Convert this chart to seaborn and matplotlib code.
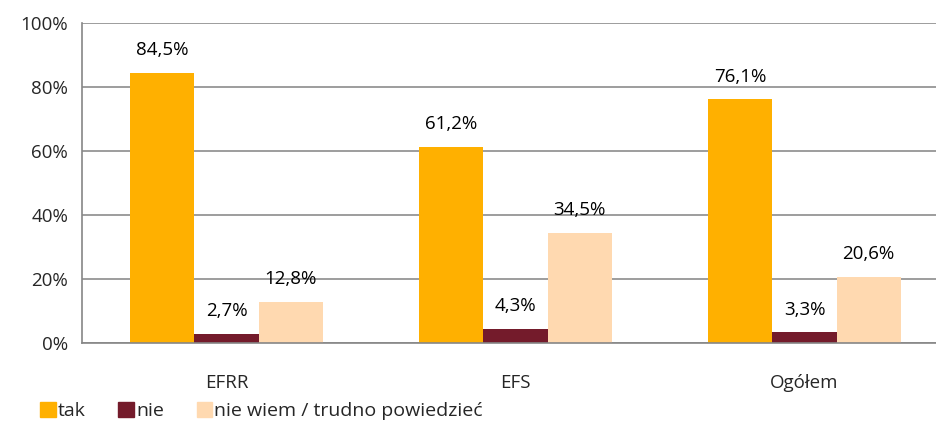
import pandas as pd
import numpy as np
import matplotlib.pyplot as plt
import seaborn as sns

# ── data ──────────────────────────────────────────────────────────────────────
categories = ['EFRR', 'EFS', 'Ogółem']
series = ['tak', 'nie', 'nie wiem / trudno powiedzieć']
tak = [84.5, 61.2, 76.1]
nie = [2.7, 4.3, 3.3]
nie_wiem = [12.8, 34.5, 20.6]
colors = ['#FFB000', '#741B2B', '#FFD9B0']

df = pd.DataFrame({
    'kategoria': categories * 3,
    'seria': [s for s in series for _ in categories],
    'wartosc': tak + nie + nie_wiem,
})

# ── plot ──────────────────────────────────────────────────────────────────────
sns.set_style('white')
plt.rcParams['font.family'] = ['Open Sans', 'DejaVu Sans']
fs = 13.5

fig = plt.figure(figsize=(9.36, 4.25), dpi=100)
ax = fig.add_axes([82 / 936, 1 - 343 / 425, 867 / 936, 320 / 425])

sns.barplot(data=df, x='kategoria', y='wartosc', hue='seria', hue_order=series,
            palette=colors, width=0.665, saturation=1, linewidth=0,
            ax=ax, legend=False)

for cont in ax.containers:
    labels = [f'{b.get_height():.1f}%'.replace('.', ',') for b in cont]
    ax.bar_label(cont, labels=labels, padding=10, fontsize=fs, color='#000000')

ax.set_ylim(0, 100)
ax.set_xlim(-0.5, 2.5)
ax.set_yticks(range(0, 101, 20))
ax.set_yticklabels([f'{v}%' for v in range(0, 101, 20)], fontsize=fs)
ax.set_xticks(range(len(categories)))
ax.set_xticklabels(categories, fontsize=fs)
ax.set_xticks([0.5, 1.5], minor=True)
ax.tick_params(axis='x', which='major', length=0, pad=22)
ax.tick_params(axis='x', which='minor', length=6, color='#868686', width=1.2, direction='out')
ax.tick_params(axis='y', length=6, color='#868686', width=1.2, direction='out', pad=4)
ax.yaxis.grid(True, color='#8c8c8c', linewidth=1.2)
ax.set_axisbelow(True)
ax.set_xlabel('')
ax.set_ylabel('')
for side in ['top', 'right']:
    ax.spines[side].set_visible(False)
for side in ['left', 'bottom']:
    ax.spines[side].set_color('#868686')
    ax.spines[side].set_linewidth(1.2)

handles = [plt.Rectangle((0, 0), 1, 1, color=c) for c in colors]
fig.legend(handles, series, loc='lower left', bbox_to_anchor=(0.024, -0.03),
           ncol=3, frameon=False, fontsize=14, handlelength=0.8, handleheight=0.8,
           handletextpad=0.1, columnspacing=1.7)

fig.savefig('out.png', dpi=100)
